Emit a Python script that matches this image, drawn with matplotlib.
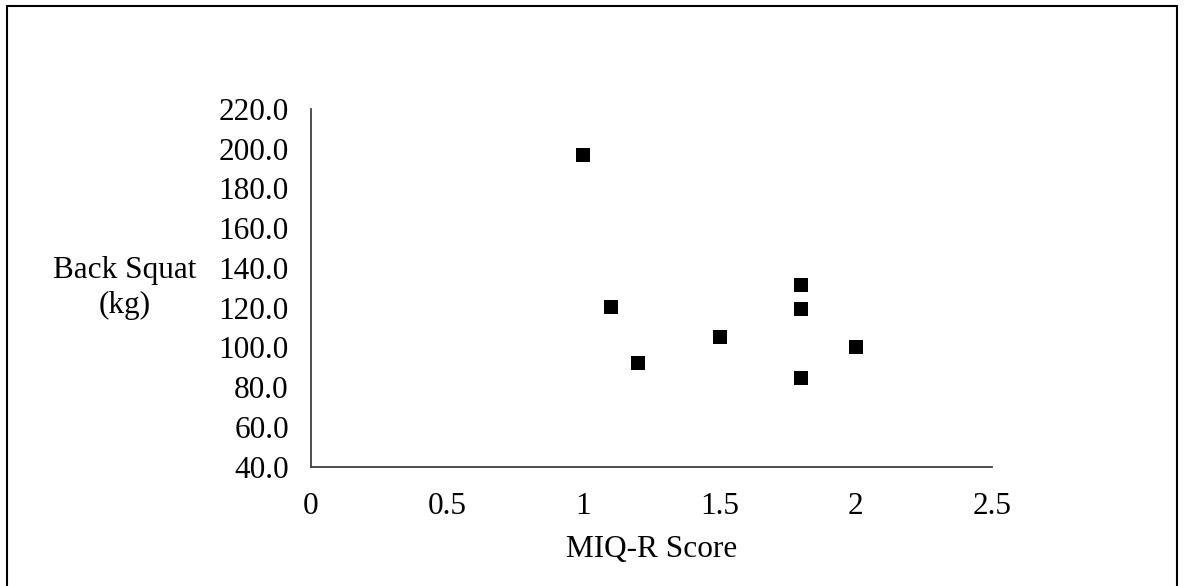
import matplotlib.pyplot as plt
from matplotlib.patches import Rectangle

# data
miq_r = [1.0, 1.1, 1.2, 1.5, 1.8, 1.8, 1.8, 2.0]
squat = [197.0, 120.5, 92.0, 105.5, 131.5, 119.5, 84.5, 100.0]
x_ticks = [0, 0.5, 1, 1.5, 2, 2.5]
x_labels = ['0', '0.5', '1', '1.5', '2', '2.5']
y_ticks = [40, 60, 80, 100, 120, 140, 160, 180, 200, 220]

plt.rcParams['font.family'] = ['Liberation Serif', 'DejaVu Serif']

W, H = 1186, 586
fig = plt.figure(figsize=(W / 100, H / 100), dpi=100)
ax = fig.add_axes([311 / W, 1 - 466.7 / H, (992 - 311) / W, (466.7 - 109) / H])

ax.scatter(miq_r, squat, marker='s', s=100, color='black', linewidths=0, zorder=3)

ax.set_xlim(0, 2.5)
ax.set_ylim(40, 220)
ax.set_xticks(x_ticks)
ax.set_xticklabels(x_labels)
ax.set_yticks(y_ticks)
ax.set_yticklabels(['%.1f' % v for v in y_ticks])
ax.tick_params(axis='both', length=0, labelsize=22.5, colors='black')
ax.tick_params(axis='y', pad=16)
ax.tick_params(axis='x', pad=18)

for s in ['top', 'right']:
    ax.spines[s].set_visible(False)
for s in ['left', 'bottom']:
    ax.spines[s].set_color('#404040')
    ax.spines[s].set_linewidth(1.3)

fig.text(652 / W, 1 - 549 / H, 'MIQ-R Score', ha='center', va='center', fontsize=22.5)
fig.text(125 / W, 1 - 288 / H, 'Back Squat\n(kg)', ha='center', va='center',
         fontsize=22.5, linespacing=1.25, multialignment='center')

# outer frame (bottom edge falls outside the image)
fig.patches.append(Rectangle((7 / W, -0.02), (1177 - 7) / W, 1.02 - 6 / H,
                             transform=fig.transFigure, fill=False,
                             edgecolor='black', linewidth=1.5))

fig.savefig('out.png', dpi=100)
